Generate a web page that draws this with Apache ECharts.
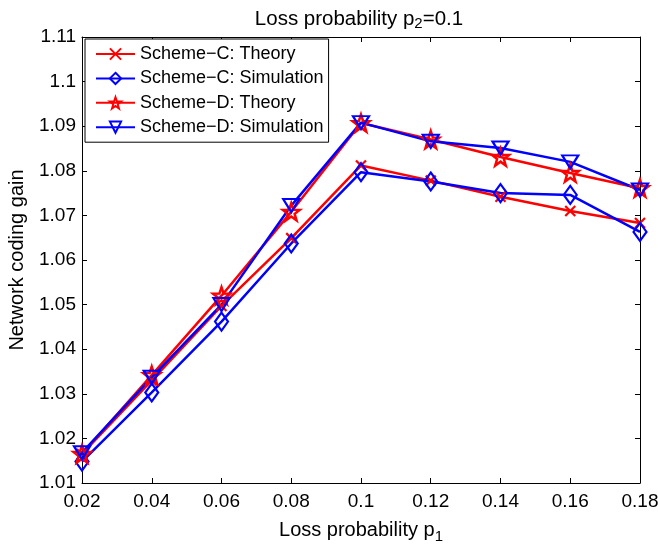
<!DOCTYPE html>
<html>
<head>
<meta charset="utf-8">
<script src="https://cdn.jsdelivr.net/npm/echarts@6/dist/echarts.min.js"></script>
<style>html,body{margin:0;padding:0;background:#fff;}#c{width:658px;height:550px;}</style>
</head>
<body>
<div id="c"></div>
<script>
var p1 = [0.02, 0.04, 0.06, 0.08, 0.10, 0.12, 0.14, 0.16, 0.18];
var schemeCTheory = [1.0165, 1.0330, 1.0497, 1.0649, 1.0812, 1.0778, 1.0742, 1.0710, 1.0683];
var schemeCSim    = [1.0148, 1.0303, 1.0462, 1.0637, 1.0797, 1.0776, 1.0750, 1.0746, 1.0663];
var schemeDTheory = [1.0165, 1.0342, 1.0520, 1.0708, 1.0907, 1.0870, 1.0831, 1.0795, 1.0761];
var schemeDSim    = [1.0168, 1.0337, 1.0500, 1.0722, 1.0908, 1.0866, 1.0851, 1.0820, 1.0757];
var seriesNames = ['Scheme\u2212C: Theory', 'Scheme\u2212C: Simulation', 'Scheme\u2212D: Theory', 'Scheme\u2212D: Simulation'];

function zip(ys){ return p1.map(function(x,i){ return [x, ys[i]]; }); }

// star path
var starPts = [];
for (var k = 0; k < 10; k++) {
  var r = (k % 2 === 0) ? 10 : 4;
  var a = -Math.PI/2 + k*Math.PI/5;
  starPts.push((10 + r*Math.cos(a)).toFixed(2) + ',' + (10 + r*Math.sin(a)).toFixed(2));
}
var starPath = 'path://M' + starPts.join('L') + 'Z';
var crossPath = 'path://M0,0L10,10M0,10L10,0';

var RED = '#ff0000', BLUE = '#0000ff';
var font = 'Liberation Sans, Arial, sans-serif';

function mk(name, ys, color, symbol, size, rot, bw){
  return {
    name: name, type: 'line', data: zip(ys),
    symbol: symbol, symbolSize: size, symbolRotate: rot || 0,
    showAllSymbol: true,
    lineStyle: {color: color, width: 2.5},
    itemStyle: {color: 'rgba(255,255,255,0)', borderColor: color, borderWidth: bw || 2.2},
    emphasis: {disabled: true},
    animation: false
  };
}

var chart = echarts.init(document.getElementById('c'), null, {renderer: 'canvas'});
var axisCommon = {
  type: 'value', min: 0.02, max: 0.18, interval: 0.02,
  axisLine: {show: true, onZero: false, lineStyle: {color: '#000', width: 1}},
  axisTick: {show: true, inside: true, length: 5, lineStyle: {color: '#000'}},
  splitLine: {show: false}
};
chart.setOption({
  backgroundColor: '#fff',
  animation: false,
  textStyle: {fontFamily: font},
  title: {
    text: 'Loss probability p{sub|2}=0.1',
    left: 354, top: 2, textAlign: 'center',
    textStyle: {fontFamily: font, fontSize: 20.5, fontWeight: 'normal', color: '#000',
      rich: {sub: {fontFamily: font, fontSize: 15, color: '#000', verticalAlign: 'bottom', padding: [9,0,0,0]}}}
  },
  grid: {left: 82, right: 18, top: 37, bottom: 67, outerBoundsMode: 'none'},
  legend: {
    orient: 'vertical', left: 85, top: 39,
    data: seriesNames,
    itemWidth: 39, itemHeight: 14, itemGap: 4.4,
    padding: [5, 5, 5, 10],
    borderColor: '#000', borderWidth: 1, backgroundColor: '#fff',
    textStyle: {fontFamily: font, fontSize: 18, lineHeight: 20, color: '#000'}
  },
  xAxis: [
    Object.assign({}, axisCommon, {
      position: 'bottom',
      name: 'Loss probability p{sub|1}', nameLocation: 'middle', nameGap: 34,
      nameTextStyle: {fontFamily: font, fontSize: 20, color: '#000',
        rich: {sub: {fontFamily: font, fontSize: 15, color: '#000', verticalAlign: 'bottom', padding: [12,0,0,0]}}},
      axisLabel: {show: true, color: '#000', fontSize: 19, fontFamily: font, margin: 9,
        formatter: function(v){ return String(parseFloat(v.toFixed(2))); }}
    }),
    Object.assign({}, axisCommon, {position: 'top', axisLabel: {show: false}})
  ],
  yAxis: [
    {
      type: 'value', min: 1.01, max: 1.11, interval: 0.01, position: 'left',
      name: 'Network coding gain', nameLocation: 'middle', nameGap: 55,
      nameTextStyle: {fontFamily: font, fontSize: 20, color: '#000'},
      axisLine: {show: true, onZero: false, lineStyle: {color: '#000', width: 1}},
      axisTick: {show: true, inside: true, length: 5, lineStyle: {color: '#000'}},
      splitLine: {show: false},
      axisLabel: {show: true, color: '#000', fontSize: 19, fontFamily: font, margin: 6,
        formatter: function(v){ return String(parseFloat(v.toFixed(2))); }}
    },
    {
      type: 'value', min: 1.01, max: 1.11, interval: 0.01, position: 'right',
      axisLine: {show: true, onZero: false, lineStyle: {color: '#000', width: 1}},
      axisTick: {show: true, inside: true, length: 5, lineStyle: {color: '#000'}},
      splitLine: {show: false},
      axisLabel: {show: false}
    }
  ],
  series: [
    mk(seriesNames[0], schemeCTheory, RED, crossPath, 10),
    mk(seriesNames[1], schemeCSim, BLUE, 'diamond', [13, 18]),
    mk(seriesNames[2], schemeDTheory, RED, starPath, 17, 0, 2.5),
    mk(seriesNames[3], schemeDSim, BLUE, 'triangle', [16, 13], 180)
  ]
});
</script>
</body>
</html>
